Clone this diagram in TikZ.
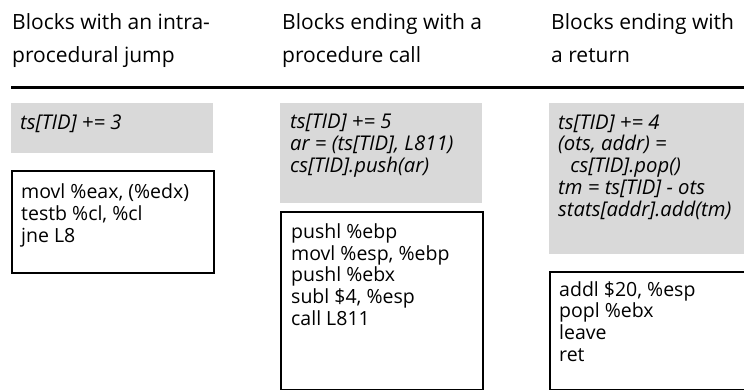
\documentclass[tikz,border=0pt]{standalone}
\usepackage{fontspec}
\setmainfont{Open Sans}
\begin{document}
\begin{tikzpicture}[x=1pt,y=-1pt,
  % multi-line nodes are placed by the baseline of their last line
  head/.style={anchor=base west, inner sep=0pt, align=left,
    font=\fontsize{21}{33}\selectfont},
  code/.style={anchor=base west, inner sep=0pt, align=left,
    font=\fontsize{19.5}{21.6}\selectfont},
  anno/.style={anchor=base west, inner sep=0pt, align=left,
    font=\fontsize{20.3}{21.7}\selectfont\itshape},
  greybox/.style={fill=black!15, draw=none},
  codebox/.style={draw=black, line width=1.5pt, fill=white},
]
\useasboundingbox (0,0) rectangle (744,389);
\clip (0,0) rectangle (744,389);

% column headings
\node[head] (h1) at (12,62) {Blocks with an intra-\\procedural jump};
\node[head] (h2) at (282,62) {Blocks ending with a\\procedure call};
\node[head] (h3) at (551,62) {Blocks ending with\\a return};

% heading rule
\draw[line width=3pt] (11,87) -- (746,87);

% instrumentation boxes
\fill[greybox] (11,103) rectangle (213,153);
\fill[greybox] (280,103) rectangle (482,203);
\fill[greybox] (549,103) rectangle (746,254);

% original code boxes
\draw[codebox] (12,171) rectangle (214,273);
\draw[codebox] (281,212) rectangle (483,390);
\draw[codebox] (550,272) rectangle (748,390);

% instrumentation text
\node[anno] (a1) at (20,129) {ts[TID] += 3};
\node[anno] (a2) at (290,172) {ts[TID] += 5\\ar = (ts[TID], L811)\\cs[TID].push(ar)};
\node[anno] (a3) at (558,216) {ts[TID] += 4\\(ots, addr) =\\\hspace*{0.6em}cs[TID].pop()\\tm = ts[TID] - ots\\stats[addr].add(tm)};

% code text
\node[code] (c1) at (21,242) {movl \%eax, (\%edx)\\testb \%cl, \%cl\\jne L8};
\node[code] (c2) at (291,325) {pushl \%ebp\\movl \%esp, \%ebp\\pushl \%ebx\\subl \$4, \%esp\\call L811};
\node[code] (c3) at (559,361) {addl \$20, \%esp\\popl \%ebx\\leave\\ret};
\end{tikzpicture}
\end{document}
